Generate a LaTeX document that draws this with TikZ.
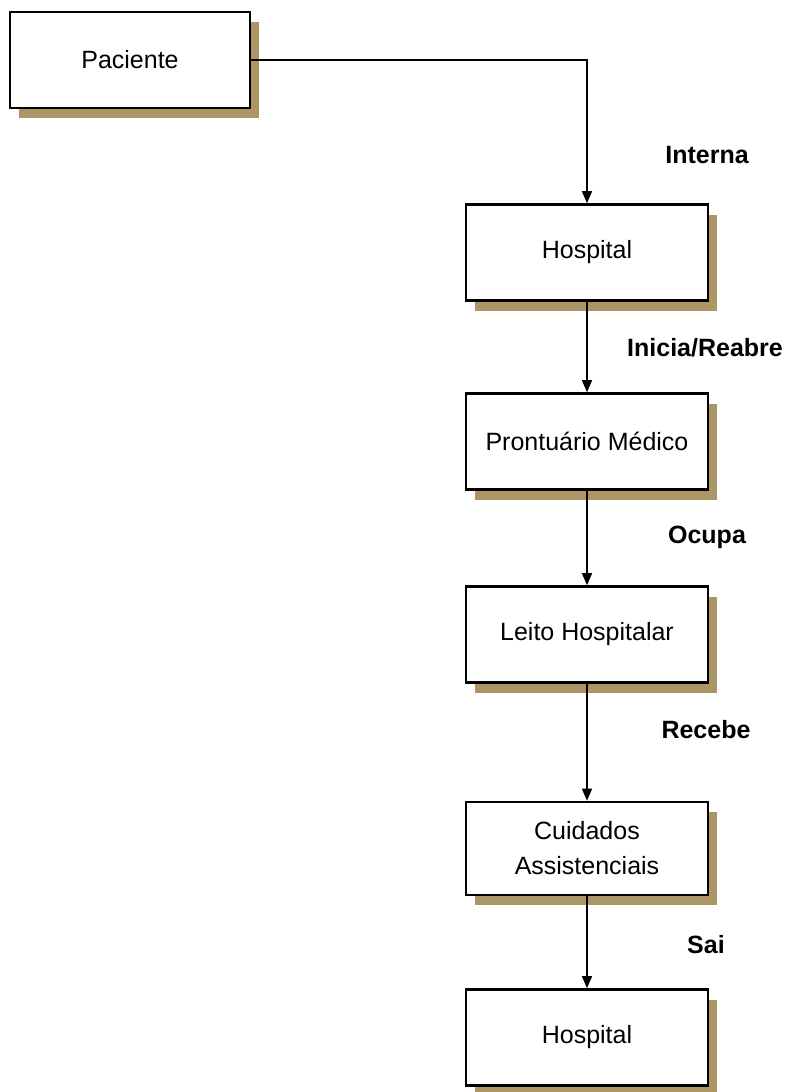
\documentclass[tikz,border=0pt]{standalone}
\usepackage{fontspec}
\setmainfont{Liberation Sans}
\usetikzlibrary{arrows.meta,shadows}
\definecolor{shade}{RGB}{172,150,102}
\tikzset{
  entity/.style={draw=black, line width=2.6pt, fill=white, minimum width=242pt,
    minimum height=96pt, align=center, inner sep=2pt,
    font=\fontsize{25}{35}\selectfont,
    drop shadow={shadow xshift=9pt, shadow yshift=-10pt, fill=shade, opacity=1}},
  flow/.style={draw=black, line width=1.4pt, -{Triangle[length=12pt,width=10pt]}},
  relname/.style={font=\bfseries\fontsize{25}{30}\selectfont, inner sep=0pt}
}
\begin{document}
\begin{tikzpicture}[x=1pt, y=-1pt]
  \useasboundingbox (0,0) rectangle (790,1092);

  % entities of the admission flow
  \node[entity, minimum width=240pt] (pac) at (130,60) {Paciente};
  \node[entity] (hosp1) at (587,252.5) {Hospital};
  \node[entity] (pront) at (587,441.5) {Prontuário Médico};
  \node[entity] (leito) at (587,634.5) {Leito Hospitalar};
  \node[entity, minimum height=93pt] (cuid) at (587,848.5) {Cuidados\\Assistenciais};
  \node[entity] (hosp2) at (587,1037.5) {Hospital};

  % relationships between them
  \draw[flow] (pac.east) -| (hosp1.north);
  \draw[flow] (hosp1) -- (pront);
  \draw[flow] (pront) -- (leito);
  \draw[flow] (leito) -- (cuid);
  \draw[flow] (cuid) -- (hosp2);

  % relationship names
  \node[relname] (lint) at (707,155) {Interna};
  \node[relname] (lini) at (705,348) {Inicia/Reabre};
  \node[relname] (locu) at (707,537) {Ocupa};
  \node[relname] (lrec) at (706,730) {Recebe};
  \node[relname] (lsai) at (706,945) {Sai};
\end{tikzpicture}
\end{document}
